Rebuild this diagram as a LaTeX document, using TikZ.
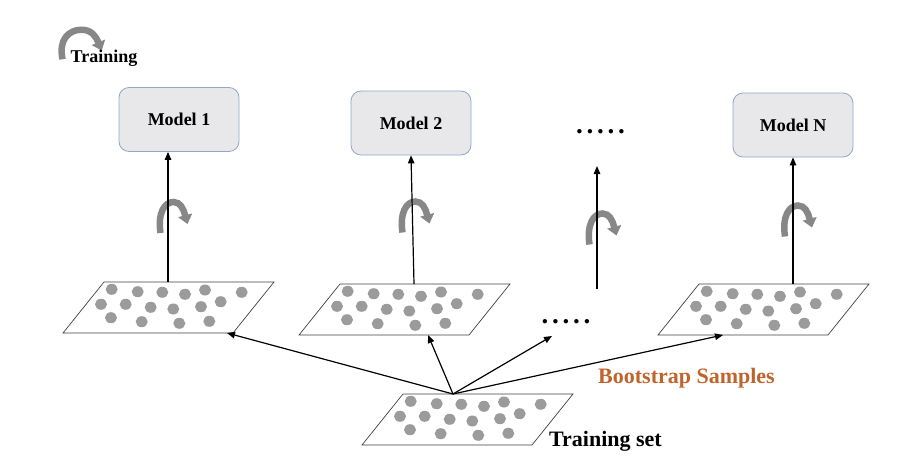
\documentclass[tikz,border=0pt]{standalone}
\usepackage{fontspec}
\setmainfont{Liberation Serif}
\usetikzlibrary{arrows.meta}
\definecolor{boxfill}{RGB}{232,232,234}
\definecolor{boxline}{RGB}{143,168,200}
\definecolor{dotgray}{RGB}{155,155,155}
\definecolor{icongray}{RGB}{135,135,135}
\definecolor{bsorange}{RGB}{192,100,45}
\tikzset{
  dotpanel/.pic={
    \draw[draw=black!75, line width=0.7pt, fill=white] (0,0) -- (170,0) -- (129,51) -- (-41,51) -- cycle;
    \foreach \a/\b in {7.7/7.3,33.7/9.7,58.3/10.3,81/12.3,101/8,137.7/10.3,
                       -3/22.3,21.7/22.3,46.7/25.3,69.3/27,97/24.7,116.7/19.7,
                       7/35.7,37.7/39.7,75.3/41.3,105.3/39.3}
      \fill[dotgray] (\a,\b) ellipse [x radius=6pt, y radius=5.5pt];
  },
  roticon/.pic={
    \draw[icongray, line width=6.5pt, -{Triangle[length=9pt,width=14pt]}]
      (-12,16) .. controls (-15,-4) and (-8,-15) .. (1,-15)
      .. controls (8,-15) and (11,-8) .. (15,7);
  }
}
\begin{document}
\begin{tikzpicture}[x=1pt,y=-1pt,
  model/.style={draw=boxline, fill=boxfill, rounded corners=10pt, line width=0.8pt,
    minimum width=120pt, minimum height=64pt, font=\fontsize{18}{20}\selectfont\bfseries},
  conn/.style={line width=1.2pt, -{Triangle[length=8pt,width=6.5pt]}},
  lbl/.style={font=\fontsize{22}{24}\selectfont\bfseries},
  dotrow/.style={font=\fontsize{27}{28}\selectfont\bfseries, anchor=base},
  ]
\useasboundingbox (0,0) rectangle (898,474);

% panels
\pic at (104,282) {dotpanel};
\pic at (340,284) {dotpanel};
\pic at (699,284) {dotpanel};
\pic at (403,394) {dotpanel};

\coordinate (p1top) at (168,282);
\coordinate (p1bot) at (227,333);
\coordinate (p2top) at (414,284);
\coordinate (p2bot) at (428,335);
\coordinate (pNtop) at (793,284);
\coordinate (pNbot) at (723,335);
\coordinate (tsTop) at (453,394);
\coordinate (midTop) at (597,166);
\coordinate (midBot) at (597,289);
\coordinate (midEnd) at (552,336);

% models
\node[model] (m1) at (179,119.5) {Model 1};
\node[model] (m2) at (411,123) {Model 2};
\node[model] (mN) at (793,125) {Model N};

% icons
\pic[xscale=1.45, yscale=0.95] at (80,44) {roticon};
\pic at (172.5,217) {roticon};
\pic at (414.5,216.5) {roticon};
\pic at (601.5,228.5) {roticon};
\pic at (797,220.5) {roticon};

% vertical arrows
\draw[conn] (p1top) -- (m1.south -| p1top);
\draw[conn] (p2top) -- (m2.south);
\draw[conn] (midBot) -- (midTop);
\draw[conn] (pNtop) -- (mN.south);

% bootstrap arrows
\draw[conn] (tsTop) -- (p1bot);
\draw[conn] (tsTop) -- (p2bot);
\draw[conn] (tsTop) -- (midEnd);
\draw[conn] (tsTop) -- (pNbot);

% labels
\node[font=\fontsize{18}{20}\selectfont\bfseries] (trlabel) at (104,58) {Training};
\node[lbl, text=bsorange] (bs) at (686.5,378) {Bootstrap Samples};
\node[lbl] (tslabel) at (605.5,441) {Training set};
\node[dotrow] (dotsTop) at (600.5,133) {.\kern3.8pt.\kern3.8pt.\kern3.8pt.\kern3.8pt.};
\node[dotrow] (dotsMid) at (566,323) {.\kern3.8pt.\kern3.8pt.\kern3.8pt.\kern3.8pt.};
\end{tikzpicture}
\end{document}
